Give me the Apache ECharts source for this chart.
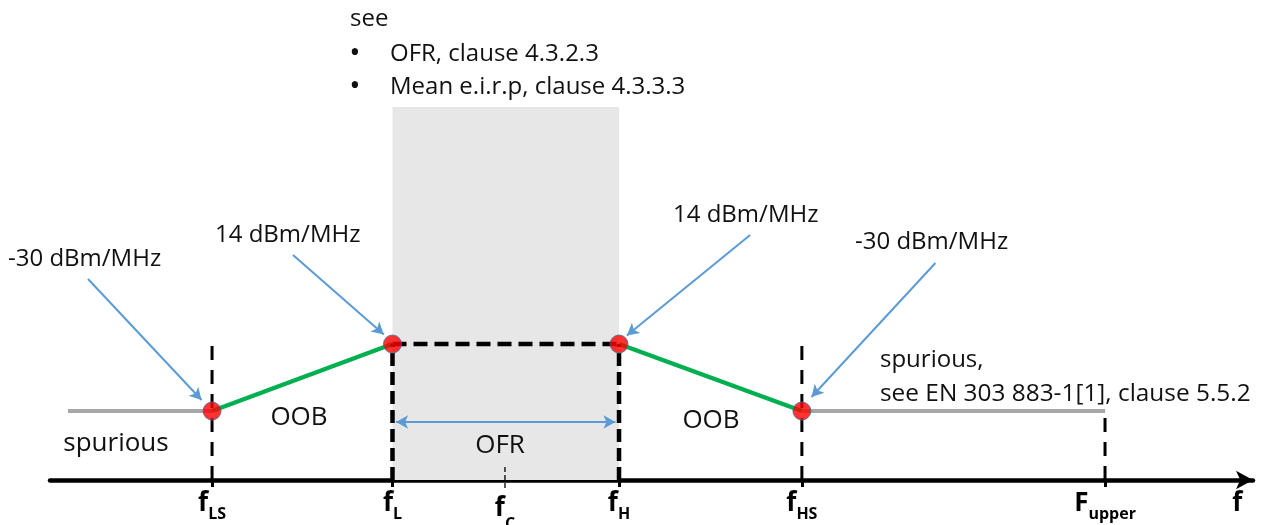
<!DOCTYPE html>
<html><head><meta charset="utf-8">
<script src="https://cdn.jsdelivr.net/npm/echarts@6/dist/echarts.min.js"></script>
<style>html,body{margin:0;padding:0;background:#fff}#c{width:1265px;height:525px}</style>
</head><body><div id="c"></div>
<script>
// ---- data (abstract frequency / level units) ----
const tickMain = ['f', 'f', 'f', 'f', 'f', 'F', 'f'];
const tickSubs = ['LS', 'L', 'C', 'H', 'HS', 'upper', ''];
const tickPos  = [13.47, 28.47, 37.82, 47.3, 62.5, 87.7, 98.7];
const tickMarks = [13.47, 28.47, 47.3, 62.5, 87.7];

const levelLabels = ['-30 dBm/MHz', '14 dBm/MHz'];
const levelSpur = 6.9;     // -30 dBm/MHz
const levelOOB = 13.6;     // 14 dBm/MHz
const ofrBandTop = 37.3;

const spurLeftX  = [1.5, 13.47];
const spurRightX = [62.5, 87.7];
const maskX = [13.47, 28.47, 47.3, 62.5];
const maskY = [levelSpur, levelOOB, levelOOB, levelSpur];

// ---- helpers ----
const FONT = '"Open Sans", "Noto Sans", sans-serif';
function lineSeries(pts, color, width, type, z) {
  return {
    type: 'line', data: pts, symbol: 'none', silent: true, z: z || 3, clip: false,
    lineStyle: { color: color, width: width, type: type || 'solid', cap: 'butt' },
    animation: false
  };
}
const thickDash = [13, 6];
const thinDash = [14, 10];

const series = [];
// OFR grey band
series.push({
  type: 'line', data: [[maskX[1], ofrBandTop], [maskX[2], ofrBandTop]],
  symbol: 'none', silent: true, z: 1,
  lineStyle: { width: 0, opacity: 0 },
  areaStyle: { color: '#e7e7e7', opacity: 1, origin: 'start' },
  animation: false
});
// spurious (grey)
series.push(lineSeries([[spurLeftX[0], levelSpur], [spurLeftX[1], levelSpur]], '#a6a6a6', 4));
series.push(lineSeries([[spurRightX[0], levelSpur], [spurRightX[1], levelSpur]], '#a6a6a6', 4));
// OOB (green)
series.push(lineSeries([[maskX[0], maskY[0]], [maskX[1], maskY[1]]], '#00b050', 4.5));
series.push(lineSeries([[maskX[2], maskY[2]], [maskX[3], maskY[3]]], '#00b050', 4.5));
// dashed verticals
series.push(lineSeries([[tickPos[0], 0], [tickPos[0], 13.5]], '#000', 3, thinDash, 4));
series.push(lineSeries([[tickPos[1], 0], [tickPos[1], levelOOB]], '#000', 4.5, thickDash, 4));
series.push(lineSeries([[tickPos[2], -0.8], [tickPos[2], 1.6]], '#000', 1.3, [5, 3], 4));
series.push(lineSeries([[tickPos[3], 0], [tickPos[3], levelOOB]], '#000', 4.5, thickDash, 4));
series.push(lineSeries([[tickPos[4], 0], [tickPos[4], 13.5]], '#000', 3, thinDash, 4));
series.push(lineSeries([[tickPos[5], 0], [tickPos[5], levelSpur]], '#000', 3, thinDash, 4));
// dashed top of OFR
series.push(lineSeries([[maskX[1], levelOOB], [maskX[2], levelOOB]], '#000', 4.5, [14, 7], 4));
// annotation arrows
series.push({
  type: 'line', data: [], silent: true, z: 5, animation: false,
  markLine: {
    silent: true, animation: false,
    symbol: ['none', 'arrow'], symbolSize: [10, 12],
    label: { show: false },
    lineStyle: { color: '#5b9bd5', width: 2, type: 'solid' },
    data: [
      [{ coord: [3.16, 20.1] }, { coord: [12.6, 8.0] }],
      [{ coord: [20.2, 22.5] }, { coord: [27.75, 14.55] }],
      [{ coord: [58.2, 24.5] }, { coord: [47.95, 14.45] }],
      [{ coord: [73.6, 21.7] }, { coord: [63.3, 8.3] }],
      [{ coord: [maskX[1] + 0.3, 5.8], symbol: 'arrow' }, { coord: [maskX[2] - 0.3, 5.8] }]
    ]
  }
});
// limit points
series.push({
  type: 'scatter', data: maskX.map((x, i) => [x, maskY[i]]),
  symbol: 'circle', symbolSize: 18, z: 10, silent: true, animation: false,
  itemStyle: { color: '#ff0000', borderColor: '#4a6a90', borderWidth: 1 }
});

function txt(text, x, y, size, align, weight) {
  return {
    type: 'text', x: x, y: y, silent: true, z: 20,
    style: { text: text, font: (weight || 'normal') + ' ' + size + 'px ' + FONT, fill: '#111',
             align: align || 'left', verticalAlign: 'middle' }
  };
}

const option = {
  backgroundColor: '#fff',
  animation: false,
  grid: { left: 50, right: 12, top: 0, bottom: 45, containLabel: false, outerBoundsMode: 'none' },
  xAxis: {
    type: 'value', min: 0, max: 100,
    splitLine: { show: false },
    axisLine: { show: true, onZero: false, symbol: ['none', 'arrow'], symbolSize: [14, 17],
                lineStyle: { color: '#000', width: 4.5 } },
    axisTick: { show: true, customValues: tickMarks, length: 7, lineStyle: { color: '#000', width: 3 } },
    axisLabel: {
      show: true, customValues: tickPos, margin: 6, hideOverlap: false,
      formatter: function (v) {
        const i = tickPos.indexOf(v);
        if (i < 0) return '';
        if (tickSubs[i] === 'C') return '{f2|' + tickMain[i] + '}{s2|' + tickSubs[i] + '}';
        if (!tickSubs[i]) return '{f|' + tickMain[i] + '}';
        return '{f|' + tickMain[i] + '}{s|' + tickSubs[i] + '}';
      },
      rich: {
        f:  { fontFamily: FONT, fontWeight: 'bold', fontSize: 26, color: '#000', lineHeight: 36, verticalAlign: 'middle' },
        s:  { fontFamily: FONT, fontWeight: 'bold', fontSize: 16, color: '#000', lineHeight: 36, verticalAlign: 'bottom' },
        f2: { fontFamily: FONT, fontWeight: 'bold', fontSize: 26, color: '#000', lineHeight: 46, verticalAlign: 'middle' },
        s2: { fontFamily: FONT, fontWeight: 'bold', fontSize: 16, color: '#000', lineHeight: 46, verticalAlign: 'bottom' }
      }
    }
  },
  yAxis: { type: 'value', min: 0, max: 48, show: false, splitLine: { show: false } },
  series: series,
  graphic: [
    txt('see', 350, 19, 24),
    txt('•', 355, 53, 30, 'center'),
    txt('OFR, clause 4.3.2.3', 390, 54, 24),
    txt('•', 355, 86, 30, 'center'),
    txt('Mean e.i.r.p, clause 4.3.3.3', 390, 87, 24),
    txt(levelLabels[0], 8, 259, 24),
    txt(levelLabels[1], 215, 235, 24),
    txt(levelLabels[1], 673, 215, 24),
    txt(levelLabels[0], 855, 242, 24),
    txt('spurious,', 880, 360, 24),
    txt('see EN 303 883-1[1], clause 5.5.2', 880, 394, 24.4),
    txt('spurious', 116, 444, 26, 'center'),
    txt('OOB', 299, 418, 26, 'center'),
    txt('OFR', 500, 446, 26, 'center'),
    txt('OOB', 711, 421, 26, 'center')
  ]
};
const chart = echarts.init(document.getElementById('c'), null, { renderer: 'canvas' });
chart.setOption(option);
</script>
</body></html>
